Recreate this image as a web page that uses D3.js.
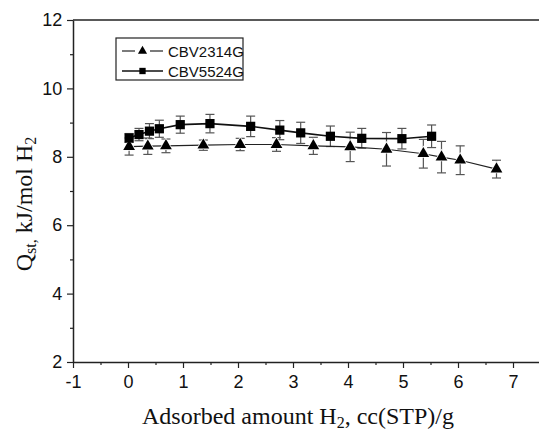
<!DOCTYPE html>
<html><head><meta charset="utf-8">
<script src="https://cdn.jsdelivr.net/npm/d3@7"></script>
<style>body{margin:0;background:#fff}</style>
</head><body><div id="chart"></div>
<script>
const seriesNames = ["CBV2314G", "CBV5524G"];
const triX = [0.02, 0.36, 0.69, 1.37, 2.04, 2.70, 3.37, 4.04, 4.70, 5.37, 5.70, 6.04, 6.70];
const triY = [8.30, 8.31, 8.32, 8.34, 8.36, 8.36, 8.32, 8.29, 8.22, 8.09, 7.99, 7.90, 7.64];
const triErr = [0.25, 0.24, 0.20, 0.15, 0.18, 0.20, 0.25, 0.43, 0.49, 0.42, 0.46, 0.42, 0.26];
const sqX = [0.02, 0.20, 0.39, 0.57, 0.95, 1.49, 2.23, 2.76, 3.14, 3.68, 4.25, 4.98, 5.52];
const sqY = [8.55, 8.65, 8.75, 8.82, 8.94, 8.97, 8.89, 8.78, 8.70, 8.60, 8.54, 8.53, 8.60];
const sqErr = [0.13, 0.18, 0.22, 0.25, 0.25, 0.27, 0.30, 0.28, 0.31, 0.30, 0.29, 0.30, 0.33];
const xTicks = [-1, 0, 1, 2, 3, 4, 5, 6, 7];
const yTicks = [2, 4, 6, 8, 10, 12];

const W = 539, H = 432;
const svg = d3.select("#chart").append("svg").attr("width", W).attr("height", H);
const x = d3.scaleLinear().domain([-1, 7.5]).range([73, 540.5]);
const y = d3.scaleLinear().domain([2, 12]).range([362, 20]);

// top border
svg.append("line").attr("x1", x(-1)).attr("x2", W).attr("y1", y(12)).attr("y2", y(12))
  .attr("stroke", "#222").attr("stroke-width", 1.5);

// x axis
const xAxis = svg.append("g").attr("transform", `translate(0,${y(2)})`)
  .call(d3.axisBottom(x).tickValues(xTicks).tickFormat(d => String(d)).tickSize(6).tickSizeOuter(0));
svg.append("g").attr("transform", `translate(0,${y(2)})`)
  .call(d3.axisBottom(x).tickValues(d3.range(-0.5, 7.5, 1)).tickFormat("").tickSize(3).tickSizeOuter(0))
  .select(".domain").remove();
// y axis
const yAxis = svg.append("g").attr("transform", `translate(${x(-1)},0)`)
  .call(d3.axisLeft(y).tickValues(yTicks).tickFormat(d => String(d)).tickSize(6).tickSizeOuter(0));
svg.append("g").attr("transform", `translate(${x(-1)},0)`)
  .call(d3.axisLeft(y).tickValues([3, 5, 7, 9, 11]).tickFormat("").tickSize(3).tickSizeOuter(0))
  .select(".domain").remove();
svg.selectAll(".domain").attr("stroke", "#222").attr("stroke-width", 1.5);
svg.selectAll(".tick line").attr("stroke", "#222").attr("stroke-width", 1.2);
svg.selectAll(".tick text").attr("font-family", "Liberation Sans, Arial, sans-serif")
  .attr("font-size", 18).attr("fill", "#111");
xAxis.selectAll(".tick text").attr("dy", "0.95em");
yAxis.selectAll(".tick text").attr("dx", "-0.1em");

const triData = triX.map((v, i) => ({x: v, y: triY[i], e: triErr[i]}));
const sqData = sqX.map((v, i) => ({x: v, y: sqY[i], e: sqErr[i]}));

function errorBars(data) {
  const g = svg.append("g").attr("stroke", "#555").attr("stroke-width", 1.2);
  data.forEach(d => {
    g.append("line").attr("x1", x(d.x)).attr("x2", x(d.x)).attr("y1", y(d.y - d.e)).attr("y2", y(d.y + d.e));
    [d.y - d.e, d.y + d.e].forEach(v => g.append("line").attr("x1", x(d.x) - 4.5).attr("x2", x(d.x) + 4.5)
      .attr("y1", y(v)).attr("y2", y(v)));
  });
}
errorBars(triData);
errorBars(sqData);

const line = d3.line().x(d => x(d.x)).y(d => y(d.y));
svg.append("path").datum(triData).attr("d", line).attr("fill", "none").attr("stroke", "#222").attr("stroke-width", 1.2);
svg.append("path").datum(sqData).attr("d", line).attr("fill", "none").attr("stroke", "#111").attr("stroke-width", 1.6);

const triSym = d3.symbol().type(d3.symbolTriangle).size(60);
const sqSym = d3.symbol().type(d3.symbolSquare).size(85);
svg.append("g").selectAll("path").data(triData).join("path")
  .attr("d", triSym).attr("transform", d => `translate(${x(d.x)},${y(d.y)})`)
  .attr("fill", "#000").attr("stroke", "#fff").attr("stroke-width", 1.5).attr("paint-order", "stroke");
svg.append("g").selectAll("path").data(sqData).join("path")
  .attr("d", sqSym).attr("transform", d => `translate(${x(d.x)},${y(d.y)})`)
  .attr("fill", "#000");

// legend
const lg = svg.append("g");
lg.append("rect").attr("x", 116).attr("y", 38).attr("width", 127).attr("height", 42)
  .attr("fill", "#fff").attr("stroke", "#222").attr("stroke-width", 1.2);
const rows = [{name: seriesNames[0], y: 51, w: 1.2}, {name: seriesNames[1], y: 71, w: 1.6}];
rows.forEach((r, i) => {
  if (i === 0) {
    lg.append("line").attr("x1", 122).attr("x2", 135).attr("y1", r.y).attr("y2", r.y).attr("stroke", "#222").attr("stroke-width", r.w);
    lg.append("line").attr("x1", 150).attr("x2", 163).attr("y1", r.y).attr("y2", r.y).attr("stroke", "#222").attr("stroke-width", r.w);
    lg.append("path").attr("d", d3.symbol().type(d3.symbolTriangle).size(36)).attr("transform", `translate(142.5,${r.y})`).attr("fill", "#000");
  } else {
    lg.append("line").attr("x1", 122).attr("x2", 163).attr("y1", r.y).attr("y2", r.y).attr("stroke", "#111").attr("stroke-width", r.w);
    lg.append("path").attr("d", d3.symbol().type(d3.symbolSquare).size(40)).attr("transform", `translate(142.5,${r.y})`).attr("fill", "#000");
  }
  lg.append("text").attr("x", 168).attr("y", r.y + 5.5).text(r.name)
    .attr("font-family", "Liberation Sans, Arial, sans-serif").attr("font-size", 15).attr("fill", "#111");
});

// axis titles
const xt = svg.append("text").attr("x", 298).attr("y", 424).attr("text-anchor", "middle")
  .attr("font-family", "Liberation Serif, Times New Roman, serif").attr("font-size", 24).attr("fill", "#111");
xt.append("tspan").text("Adsorbed amount H");
xt.append("tspan").attr("font-size", 16).attr("dy", 4).text("2");
xt.append("tspan").attr("dy", -4).text(", cc(STP)/g");

const yt = svg.append("text").attr("transform", "translate(32,204) rotate(-90)").attr("text-anchor", "middle")
  .attr("font-family", "Liberation Serif, Times New Roman, serif").attr("font-size", 24).attr("fill", "#111");
yt.append("tspan").text("Q");
yt.append("tspan").attr("font-size", 16).attr("dy", 4).text("st,");
yt.append("tspan").attr("dy", -4).text(" kJ/mol H");
yt.append("tspan").attr("font-size", 16).attr("dy", 4).text("2");
</script></body></html>
